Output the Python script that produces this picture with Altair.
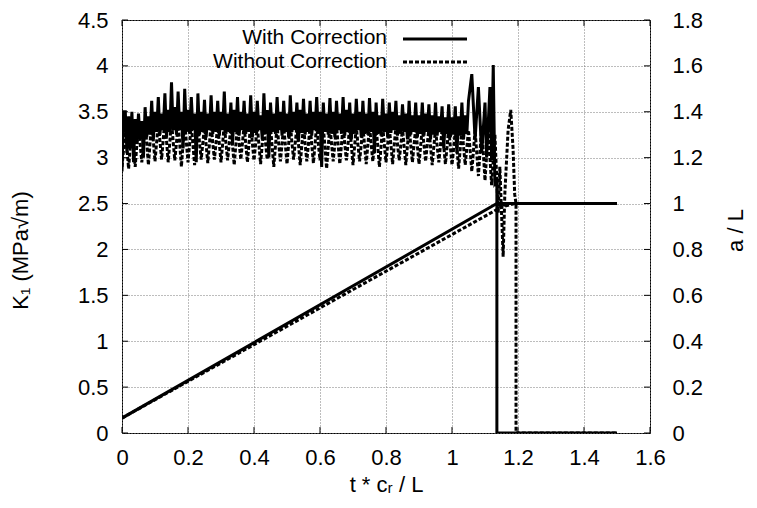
import altair as alt
import pandas as pd

# ---------------- data ----------------
T_OSC = [0.000, 0.005, 0.010, 0.015, 0.020, 0.025, 0.030, 0.035, 0.040, 0.045,
         0.050, 0.055, 0.060, 0.065, 0.070, 0.075, 0.080, 0.085, 0.090, 0.095,
         0.100, 0.105, 0.110, 0.115, 0.120, 0.125, 0.130, 0.135, 0.140, 0.145,
         0.150, 0.155, 0.160, 0.165, 0.170, 0.175, 0.180, 0.185, 0.190, 0.195,
         0.200, 0.205, 0.210, 0.215, 0.220, 0.225, 0.230, 0.235, 0.240, 0.245,
         0.250, 0.255, 0.260, 0.265, 0.270, 0.275, 0.280, 0.285, 0.290, 0.295,
         0.300, 0.305, 0.310, 0.315, 0.320, 0.325, 0.330, 0.335, 0.340, 0.345,
         0.350, 0.355, 0.360, 0.365, 0.370, 0.375, 0.380, 0.385, 0.390, 0.395,
         0.400, 0.405, 0.410, 0.415, 0.420, 0.425, 0.430, 0.435, 0.440, 0.445,
         0.450, 0.455, 0.460, 0.465, 0.470, 0.475, 0.480, 0.485, 0.490, 0.495,
         0.500, 0.505, 0.510, 0.515, 0.520, 0.525, 0.530, 0.535, 0.540, 0.545,
         0.550, 0.555, 0.560, 0.565, 0.570, 0.575, 0.580, 0.585, 0.590, 0.595,
         0.600, 0.605, 0.610, 0.615, 0.620, 0.625, 0.630, 0.635, 0.640, 0.645,
         0.650, 0.655, 0.660, 0.665, 0.670, 0.675, 0.680, 0.685, 0.690, 0.695,
         0.700, 0.705, 0.710, 0.715, 0.720, 0.725, 0.730, 0.735, 0.740, 0.745,
         0.750, 0.755, 0.760, 0.765, 0.770, 0.775, 0.780, 0.785, 0.790, 0.795,
         0.800, 0.805, 0.810, 0.815, 0.820, 0.825, 0.830, 0.835, 0.840, 0.845,
         0.850, 0.855, 0.860, 0.865, 0.870, 0.875, 0.880, 0.885, 0.890, 0.895,
         0.900, 0.905, 0.910, 0.915, 0.920, 0.925, 0.930, 0.935, 0.940, 0.945,
         0.950, 0.955, 0.960, 0.965, 0.970, 0.975, 0.980, 0.985, 0.990, 0.995,
         1.000, 1.005, 1.010, 1.015, 1.020, 1.025, 1.030, 1.035, 1.040, 1.045,
         1.050]

K1_WITH_OSC = [2.85, 3.50, 3.50, 3.05, 3.45, 3.10, 3.50, 2.95, 3.42, 3.15,
               3.48, 3.20, 3.40, 3.00, 3.55, 3.22, 3.45, 3.25, 3.62, 3.20,
               3.50, 3.28, 3.66, 3.25, 3.48, 3.30, 3.70, 3.22, 3.52, 3.28,
               3.82, 3.30, 3.55, 3.25, 3.72, 3.30, 3.50, 3.10, 3.75, 3.28,
               3.52, 3.26, 3.66, 3.30, 3.48, 2.95, 3.70, 3.25, 3.50, 3.28,
               3.63, 3.22, 3.48, 3.30, 3.68, 3.26, 3.50, 3.28, 3.62, 3.24,
               3.50, 3.30, 3.72, 3.26, 3.48, 3.28, 3.60, 3.15, 3.52, 3.28,
               3.66, 3.24, 3.50, 3.30, 3.62, 3.26, 3.48, 3.28, 3.68, 3.22,
               3.50, 3.27, 3.62, 3.30, 3.46, 3.20, 3.70, 3.26, 3.52, 3.00,
               3.60, 3.28, 3.48, 3.26, 3.66, 3.30, 3.50, 3.24, 3.62, 3.28,
               3.48, 3.22, 3.68, 3.28, 3.50, 3.30, 3.60, 3.18, 3.52, 3.27,
               3.64, 3.25, 3.48, 3.28, 3.62, 3.24, 3.50, 3.30, 3.66, 3.26,
               3.50, 2.90, 3.60, 3.28, 3.48, 3.25, 3.65, 3.26, 3.50, 3.22,
               3.62, 3.30, 3.48, 3.26, 3.66, 3.24, 3.52, 3.28, 3.60, 3.20,
               3.48, 3.26, 3.64, 3.30, 3.50, 3.22, 3.62, 3.26, 3.48, 3.25,
               3.65, 3.28, 3.50, 3.05, 3.60, 3.26, 3.46, 3.24, 3.64, 3.28,
               3.48, 3.22, 3.60, 3.27, 3.50, 3.30, 3.62, 3.24, 3.46, 3.26,
               3.58, 3.28, 3.48, 3.20, 3.62, 3.25, 3.46, 3.28, 3.60, 3.22,
               3.46, 3.26, 3.60, 3.24, 3.48, 3.28, 3.58, 3.20, 3.46, 3.25,
               3.60, 3.24, 3.45, 3.28, 3.56, 3.10, 3.44, 3.26, 3.58, 3.22,
               3.44, 3.25, 3.56, 3.05, 3.45, 3.24, 3.60, 3.20, 3.46, 3.26,
               3.62]

K1_WITHOUT_OSC = [2.90, 3.10, 3.28, 3.10, 2.88, 3.12, 3.32, 3.12, 2.90, 3.14,
                  3.35, 3.15, 2.95, 3.14, 3.38, 3.16, 2.92, 3.16, 3.40, 3.18,
                  2.96, 3.17, 3.38, 3.18, 2.98, 3.20, 3.42, 3.18, 2.95, 3.17,
                  3.40, 3.18, 2.97, 3.16, 3.38, 3.15, 2.90, 3.15, 3.40, 3.17,
                  2.95, 3.15, 3.36, 3.14, 2.92, 3.15, 3.38, 3.16, 2.98, 3.16,
                  3.35, 3.14, 2.94, 3.15, 3.38, 3.16, 2.98, 3.16, 3.36, 3.15,
                  2.95, 3.15, 3.38, 3.16, 2.97, 3.15, 3.35, 3.13, 2.92, 3.14,
                  3.37, 3.16, 2.98, 3.16, 3.36, 3.15, 2.95, 3.16, 3.38, 3.16,
                  2.97, 3.15, 3.35, 3.14, 2.93, 3.15, 3.37, 3.16, 2.98, 3.15,
                  3.34, 3.12, 2.90, 3.13, 3.36, 3.15, 2.96, 3.15, 3.35, 3.14,
                  2.93, 3.15, 3.37, 3.16, 2.98, 3.16, 3.34, 3.14, 2.92, 3.14,
                  3.36, 3.15, 2.96, 3.15, 3.35, 3.14, 2.94, 3.15, 3.36, 3.15,
                  2.97, 3.15, 3.34, 3.12, 2.88, 3.12, 3.36, 3.15, 2.96, 3.15,
                  3.35, 3.14, 2.93, 3.14, 3.36, 3.15, 2.97, 3.15, 3.34, 3.14,
                  2.92, 3.13, 3.35, 3.14, 2.96, 3.14, 3.34, 3.14, 2.93, 3.14,
                  3.35, 3.15, 2.96, 3.14, 3.33, 3.13, 2.90, 3.12, 3.35, 3.14,
                  2.95, 3.14, 3.33, 3.14, 2.93, 3.14, 3.34, 3.14, 2.97, 3.14,
                  3.32, 3.12, 2.92, 3.13, 3.34, 3.14, 2.95, 3.14, 3.33, 3.13,
                  2.93, 3.13, 3.33, 3.14, 2.96, 3.14, 3.32, 3.12, 2.92, 3.12,
                  3.32, 3.13, 2.95, 3.13, 3.31, 3.12, 2.93, 3.12, 3.32, 3.12,
                  2.92, 3.10, 3.30, 3.10, 2.88, 3.10, 3.32, 3.12, 2.92, 3.11,
                  3.30]

T_WITH_TAIL = [1.06, 1.07, 1.08, 1.09, 1.10, 1.105, 1.115, 1.12, 1.125, 1.13, 1.136, 1.136, 1.50]
K1_WITH_TAIL = [3.91, 3.20, 3.77, 3.05, 3.60, 3.00, 3.77, 2.97, 4.01, 2.72, 2.75, 0.00, 0.00]

T_WITHOUT_TAIL = [1.06, 1.07, 1.08, 1.09, 1.10, 1.11, 1.12, 1.13, 1.14, 1.145,
                  1.155, 1.16, 1.17, 1.178, 1.185, 1.19, 1.194, 1.194, 1.50]
K1_WITHOUT_TAIL = [2.85, 3.30, 2.80, 3.35, 2.75, 3.30, 2.70, 3.25, 2.40, 2.90,
                   1.92, 2.60, 3.30, 3.52, 3.10, 2.60, 2.50, 0.00, 0.00]

T_AL_WITH = [0.00, 1.136, 1.50]
AL_WITH = [0.065, 1.00, 1.00]
T_AL_WITHOUT = [0.00, 1.15, 1.19, 1.50]
AL_WITHOUT = [0.065, 0.985, 1.00, 1.00]

X_TICKS = [0, 0.2, 0.4, 0.6, 0.8, 1.0, 1.2, 1.4, 1.6]
K1_TICKS = [0, 0.5, 1, 1.5, 2, 2.5, 3, 3.5, 4, 4.5]
AL_TICKS = [0, 0.2, 0.4, 0.6, 0.8, 1.0, 1.2, 1.4, 1.6, 1.8]

SERIES = ["With Correction", "Without Correction"]

# ---------------- layout ----------------
W, H = 528, 413
FONT = "Liberation Sans"
FS = 22
LEG_FS = 21


def frame(ts, vs):
    return pd.DataFrame({"t": ts, "v": vs, "i": list(range(len(ts)))})


k1_with = frame(T_OSC + T_WITH_TAIL, K1_WITH_OSC + K1_WITH_TAIL)
k1_without = frame(T_OSC + T_WITHOUT_TAIL, K1_WITHOUT_OSC + K1_WITHOUT_TAIL)
al_with = frame(T_AL_WITH, AL_WITH)
al_without = frame(T_AL_WITHOUT, AL_WITHOUT)

x_axis = alt.Axis(
    title="t * cᵣ / L", values=X_TICKS, format=".1~f", grid=True,
    gridDash=[1, 2], gridColor="#7a7a7a", gridWidth=1, domain=False,
    ticks=False, tickSize=0, labelFontSize=FS, labelPadding=14,
    labelFlush=False, labelOverlap=False, labelColor="black",
    titleFontSize=FS, titleFontWeight="normal", titleColor="black",
    titleX=W / 2, titleY=58, titleAlign="center", titleBaseline="alphabetic",
)
left_axis = alt.Axis(
    title="K₁ (MPa√m)", values=K1_TICKS, format=".1~f", grid=True,
    gridDash=[1, 2], gridColor="#7a7a7a", gridWidth=1, domain=False,
    ticks=False, tickSize=0, labelFontSize=FS, labelPadding=14,
    labelFlush=False, labelOverlap=False, labelColor="black",
    titleFontSize=FS, titleFontWeight="normal", titleColor="black",
    titleAngle=270, titleX=-102, titleY=230, titleAlign="center",
    titleBaseline="middle", orient="left",
)
right_axis = alt.Axis(
    title="a / L", values=AL_TICKS, format=".1~f", grid=False,
    domain=False, ticks=False, tickSize=0, labelFontSize=FS,
    labelPadding=22, labelFlush=False, labelOverlap=False,
    labelColor="black", titleFontSize=FS, titleFontWeight="normal",
    titleColor="black", titleAngle=270, titleX=85, titleY=210,
    titleAlign="center", titleBaseline="middle", orient="right",
)

x_enc = alt.X("t:Q", scale=alt.Scale(domain=[0, 1.6], nice=False, zero=False), axis=x_axis)
y_k1 = alt.Y("v:Q", scale=alt.Scale(domain=[0, 4.5], nice=False), axis=left_axis)
y_al = alt.Y("v:Q", scale=alt.Scale(domain=[0, 1.8], nice=False), axis=right_axis)

LW = 3
DASH = [4, 2]


def line(df, y, dash):
    kw = {"strokeDash": dash} if dash else {}
    return alt.Chart(df).mark_line(color="black", strokeWidth=LW, strokeCap="butt",
                                   clip=True, **kw).encode(
        x=x_enc, y=y, order="i:Q")


# inward tick marks (gnuplot style) on all four sides
xt = pd.DataFrame({"t": X_TICKS})
yt = pd.DataFrame({"v": K1_TICKS})
TL = 6
ticks = [
    alt.Chart(xt).mark_rule(color="black", strokeWidth=1).encode(
        x=x_enc, y=alt.value(H), y2=alt.value(H - TL)),
    alt.Chart(xt).mark_rule(color="black", strokeWidth=1).encode(
        x=x_enc, y=alt.value(0), y2=alt.value(TL)),
    alt.Chart(yt).mark_rule(color="black", strokeWidth=1).encode(
        y=y_k1, x=alt.value(0), x2=alt.value(TL)),
    alt.Chart(yt).mark_rule(color="black", strokeWidth=1).encode(
        y=y_k1, x=alt.value(W), x2=alt.value(W - TL)),
]

# legend (top right, inside the plot)
leg_df = pd.DataFrame({"label": SERIES})
LEG_Y = [18, 42]
legend = [
    alt.Chart(leg_df).transform_filter(alt.datum.label == SERIES[0]).mark_text(
        align="right", baseline="middle", font=FONT, fontSize=LEG_FS, color="black").encode(
        text="label:N", x=alt.value(265), y=alt.value(LEG_Y[0])),
    alt.Chart(leg_df).transform_filter(alt.datum.label == SERIES[1]).mark_text(
        align="right", baseline="middle", font=FONT, fontSize=LEG_FS, color="black").encode(
        text="label:N", x=alt.value(265), y=alt.value(LEG_Y[1])),
    alt.Chart(leg_df).transform_filter(alt.datum.label == SERIES[0]).mark_rule(
        color="black", strokeWidth=LW).encode(
        x=alt.value(281), x2=alt.value(345), y=alt.value(LEG_Y[0] + 1)),
    alt.Chart(leg_df).transform_filter(alt.datum.label == SERIES[1]).mark_rule(
        color="black", strokeWidth=LW, strokeDash=DASH).encode(
        x=alt.value(281), x2=alt.value(345), y=alt.value(LEG_Y[1])),
]

k1_group = alt.layer(
    line(k1_with, y_k1, None),
    line(k1_without, y_k1, DASH),
    *ticks,
    *legend,
)
al_group = alt.layer(
    line(al_with, y_al, None),
    line(al_without, y_al, DASH),
)

chart = alt.layer(k1_group, al_group).resolve_scale(y="independent").properties(
    width=W, height=H,
    autosize=alt.AutoSizeParams(type="none"),
    padding={"left": 114, "top": 12, "right": 99, "bottom": 67},
).configure_view(stroke="black", strokeWidth=1).configure_axis(
    labelFont=FONT, titleFont=FONT
).configure_text(font=FONT)

chart.save("out.html", embed_options={"renderer": "svg", "actions": False})
